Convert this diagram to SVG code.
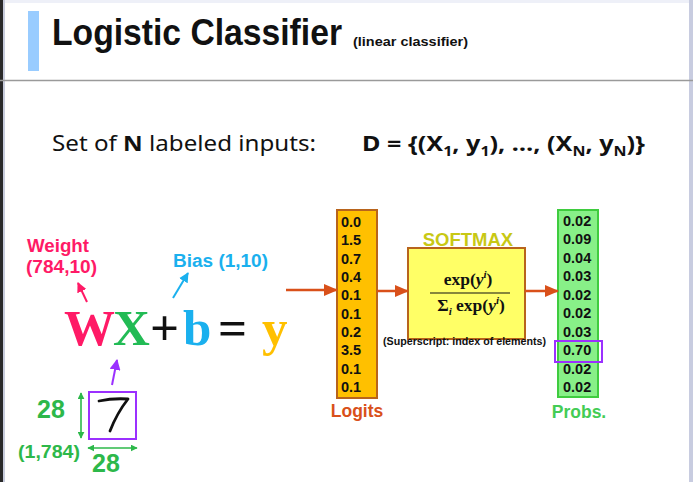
<svg xmlns="http://www.w3.org/2000/svg" width="693" height="482" viewBox="0 0 693 482">
<style>
.sans{font-family:"Liberation Sans",Arial,sans-serif;font-weight:bold}
.serif{font-family:"Liberation Serif","Times New Roman",serif;font-weight:bold}
.val{font-family:"Liberation Sans",Arial,sans-serif;font-weight:bold;font-size:14.5px;fill:#111}
.orange{stroke:#d9501a;stroke-width:2.5;fill:none}
.green{fill:#2db84a}
</style>
<defs>
<marker id="hO" markerUnits="userSpaceOnUse" markerWidth="14" markerHeight="12" viewBox="0 0 14 12" refX="13" refY="6" orient="auto"><path d="M0,0 L14,6 L0,12 z" fill="#d9501a"/></marker>
<marker id="hP" markerUnits="userSpaceOnUse" markerWidth="10" markerHeight="10" viewBox="0 0 10 10" refX="9" refY="5" orient="auto"><path d="M0,0 L10,5 L0,10 z" fill="#ff1a66"/></marker>
<marker id="hB" markerUnits="userSpaceOnUse" markerWidth="10" markerHeight="10" viewBox="0 0 10 10" refX="9" refY="5" orient="auto"><path d="M0,0 L10,5 L0,10 z" fill="#1ab0ee"/></marker>
<marker id="hV" markerUnits="userSpaceOnUse" markerWidth="11" markerHeight="11" viewBox="0 0 10 10" refX="9" refY="5" orient="auto"><path d="M0,0 L10,5 L0,10 z" fill="#9b30ff"/></marker>
<marker id="hG" markerUnits="userSpaceOnUse" markerWidth="7" markerHeight="7" viewBox="0 0 10 10" refX="9" refY="5" orient="auto-start-reverse"><path d="M0,0 L10,5 L0,10 z" fill="#2db84a"/></marker>
</defs>
<rect width="693" height="482" fill="#ffffff"/>
<rect x="0" y="0" width="693" height="3" fill="#eef0f8"/>
<rect x="0" y="0" width="3" height="482" fill="#2a2a2a"/>
<rect x="3" y="0" width="2" height="482" fill="#c8ccdc"/>
<rect x="689" y="0" width="4" height="482" fill="#c8cce0"/>
<line x1="0" y1="80.5" x2="693" y2="80.5" stroke="#9a9a9a" stroke-width="1.5"/>

<g id="title">
<rect x="28" y="11" width="11" height="60" fill="#99ccff"/>
<text x="52" y="45" class="sans" font-size="36" fill="#111" textLength="290" lengthAdjust="spacingAndGlyphs">Logistic Classifier</text>
<text x="353" y="46" class="sans" font-size="13.5" fill="#111" textLength="115" lengthAdjust="spacingAndGlyphs">(linear classifier)</text>
</g>

<g id="dataset">
<text x="52" y="151" font-family="'Noto Sans','Open Sans',sans-serif" font-size="22" fill="#111" textLength="264" lengthAdjust="spacingAndGlyphs">Set of <tspan font-weight="bold">N</tspan> labeled inputs:</text>
<text x="362" y="151" font-family="'Noto Sans','Open Sans',sans-serif" font-weight="bold" font-size="22" fill="#111" textLength="283" lengthAdjust="spacingAndGlyphs">D = {(X<tspan font-size="14" dy="5">1</tspan><tspan dy="-5">, y</tspan><tspan font-size="14" dy="5">1</tspan><tspan dy="-5">), …, (X</tspan><tspan font-size="14" dy="5">N</tspan><tspan dy="-5">, y</tspan><tspan font-size="14" dy="5">N</tspan><tspan dy="-5">)}</tspan></text>
</g>

<g id="equation">
<text y="345" class="serif" font-size="51"><tspan x="64" fill="#ff1a66">W</tspan><tspan x="113" fill="#22bb55">X</tspan><tspan x="150" fill="#111">+</tspan><tspan x="183" fill="#1ab0ee">b</tspan><tspan x="218" fill="#111">=</tspan><tspan x="262" fill="#ffc000">y</tspan></text>
</g>

<g id="weight">
<text x="27" y="252" class="sans" font-size="17.5" fill="#ff1a66" textLength="62" lengthAdjust="spacingAndGlyphs">Weight</text>
<text x="26" y="273" class="sans" font-size="17.5" fill="#ff1a66" textLength="71" lengthAdjust="spacingAndGlyphs">(784,10)</text>
</g>

<g id="bias">
<text x="173" y="267" class="sans" font-size="17.5" fill="#1ab0ee" textLength="95" lengthAdjust="spacingAndGlyphs">Bias (1,10)</text>
</g>

<g id="input">
<rect x="89" y="392" width="47" height="47" fill="#ffffff" stroke="#9b30ff" stroke-width="2"/>
<path d="M99,401 Q113,398 128,399 Q117,413 110,431" fill="none" stroke="#111" stroke-width="2.8" stroke-linecap="round" stroke-linejoin="round"/>
<text x="37" y="418" class="sans green" font-size="25">28</text>
<text x="92" y="472" class="sans green" font-size="25">28</text>
<text x="18" y="458" class="sans green" font-size="18" textLength="62" lengthAdjust="spacingAndGlyphs">(1,784)</text>
<line x1="81" y1="393" x2="81" y2="438" stroke="#2db84a" stroke-width="1.6" marker-start="url(#hG)" marker-end="url(#hG)"/>
<line x1="88" y1="448" x2="137" y2="448" stroke="#2db84a" stroke-width="1.6" marker-start="url(#hG)" marker-end="url(#hG)"/>
</g>

<g id="logits">
<rect x="337" y="210" width="40" height="188" fill="#ffc000" stroke="#b8641c" stroke-width="2"/>
<text class="val"><tspan x="341" y="227">0.0</tspan><tspan x="341" y="245.3">1.5</tspan><tspan x="341" y="263.7">0.7</tspan><tspan x="341" y="282">0.4</tspan><tspan x="341" y="300.3">0.1</tspan><tspan x="341" y="318.7">0.1</tspan><tspan x="341" y="337">0.2</tspan><tspan x="341" y="355.3">3.5</tspan><tspan x="341" y="373.7">0.1</tspan><tspan x="341" y="392">0.1</tspan></text>
<text x="357" y="417" class="sans" font-size="17.5" fill="#d9501a" text-anchor="middle">Logits</text>
</g>

<g id="softmax">
<text x="468" y="246" class="sans" font-size="18.5" fill="#c8c814" text-anchor="middle">SOFTMAX</text>
<rect x="408" y="248" width="117" height="91" fill="#ffff66" stroke="#b8641c" stroke-width="2"/>
<text x="468" y="285" class="serif" font-size="17.5" fill="#111" text-anchor="middle">exp(<tspan font-style="italic">y</tspan><tspan font-style="italic" font-size="11" dy="-7">i</tspan><tspan dy="7">)</tspan></text>
<line x1="430" y1="293" x2="510" y2="293" stroke="#111" stroke-width="1.2"/>
<text x="471" y="311" class="serif" font-size="17.5" fill="#111" text-anchor="middle">Σ<tspan font-style="italic" font-size="11" dy="4">i</tspan><tspan dy="-4"> exp(</tspan><tspan font-style="italic">y</tspan><tspan font-style="italic" font-size="11" dy="-7">i</tspan><tspan dy="7">)</tspan></text>
<text x="383" y="345" class="sans" font-size="10.5" fill="#111" textLength="163" lengthAdjust="spacingAndGlyphs">(Superscript: index of elements)</text>
</g>

<g id="probs">
<rect x="558" y="210" width="40" height="187" fill="#88f088" stroke="#3fcc3f" stroke-width="2"/>
<text class="val"><tspan x="563" y="225.5">0.02</tspan><tspan x="563" y="244">0.09</tspan><tspan x="563" y="262.5">0.04</tspan><tspan x="563" y="281">0.03</tspan><tspan x="563" y="299.5">0.02</tspan><tspan x="563" y="318">0.02</tspan><tspan x="563" y="336.5">0.03</tspan><tspan x="563" y="355">0.70</tspan><tspan x="563" y="373.5">0.02</tspan><tspan x="563" y="392">0.02</tspan></text>
<rect x="555" y="341" width="47" height="21" fill="none" stroke="#9b30ff" stroke-width="2"/>
<text x="579" y="418" class="sans" font-size="17.5" fill="#44cc55" text-anchor="middle">Probs.</text>
</g>

<g id="connectors">
<line x1="286" y1="290" x2="337" y2="290" class="orange" marker-end="url(#hO)"/>
<line x1="377" y1="291" x2="408" y2="291" class="orange" marker-end="url(#hO)"/>
<line x1="525" y1="291" x2="558" y2="291" class="orange" marker-end="url(#hO)"/>
<line x1="87" y1="302" x2="78" y2="283" stroke="#ff1a66" stroke-width="2" marker-end="url(#hP)"/>
<line x1="173" y1="298" x2="188" y2="273" stroke="#1ab0ee" stroke-width="2" marker-end="url(#hB)"/>
<line x1="112" y1="385" x2="117" y2="360" stroke="#9b30ff" stroke-width="2" marker-end="url(#hV)"/>
</g>
</svg>
